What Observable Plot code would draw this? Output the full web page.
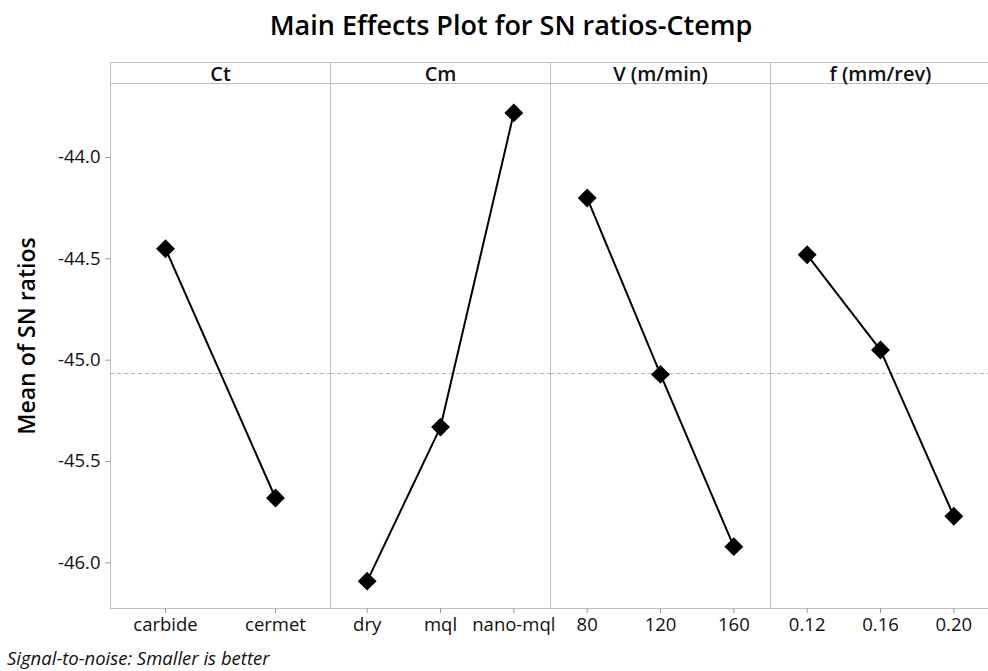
<!DOCTYPE html>
<html>
<head>
<meta charset="utf-8">
<script src="https://cdn.jsdelivr.net/npm/d3@7"></script>
<script src="https://cdn.jsdelivr.net/npm/@observablehq/plot@0.6"></script>
<style>
  html, body { margin: 0; padding: 0; background: #fff; }
  body { width: 988px; height: 671px; overflow: hidden; font-family: "Open Sans", sans-serif; color: #000; }
  #title { height: 50px; line-height: 50px; font-size: 27px; font-weight: 600; text-align: center; padding-left: 34px; box-sizing: border-box; width: 988px; white-space: nowrap; }
  #chart { width: 991px; height: 598px; }
  #caption { height: 19px; line-height: 19px; font-size: 18.5px; font-style: italic; padding-left: 7px; white-space: nowrap; color: #111; }
</style>
</head>
<body>
<div id="title">Main Effects Plot for SN ratios-Ctemp</div>
<div id="chart"></div>
<div id="caption">Signal-to-noise: Smaller is better</div>
<script>
// ---- data ----
const factors = ["Ct", "Cm", "V (m/min)", "f (mm/rev)"];
const ctLevels = ["carbide", "cermet"];
const ctMeans = [-44.45, -45.68];
const cmLevels = ["dry", "mql", "nano-mql"];
const cmMeans = [-46.09, -45.33, -43.78];
const vLevels = ["80", "120", "160"];
const vMeans = [-44.20, -45.07, -45.92];
const fLevels = ["0.12", "0.16", "0.20"];
const fMeans = [-44.48, -44.95, -45.77];
const yTicks = [-44.0, -44.5, -45.0, -45.5, -46.0];
const yDomain = [-46.225, -43.635];

const levelSets = [ctLevels, cmLevels, vLevels, fLevels];
const meanSets = [ctMeans, cmMeans, vMeans, fMeans];

const rows = [];
factors.forEach((factor, k) => {
  const levels = levelSets[k];
  levels.forEach((level, i) => {
    rows.push({factor, level, pos: (i + 0.5) / levels.length, mean: meanSets[k][i]});
  });
});
const grandMean = d3.mean(rows, d => d.mean);

const W = 991, H = 598, mL = 108, mR = 0, mT = 33, mB = 40;
const frameH = H - mT - mB;
const gridGray = "#c0c0c0";

const chart = Plot.plot({
  width: W,
  height: H,
  marginLeft: mL,
  marginRight: mR,
  marginTop: mT,
  marginBottom: mB,
  style: {fontFamily: "'Open Sans', sans-serif", color: "#000", background: "#fff"},
  fx: {domain: factors, padding: 0},
  x: {domain: [0, 1], axis: null},
  y: {domain: yDomain, axis: null},
  marks: [
    Plot.frame({stroke: gridGray, insetTop: -21}),
    Plot.frame({anchor: "top", stroke: gridGray}),
    Plot.ruleY([grandMean], {stroke: "#b0b0b0", strokeDasharray: "4,3", strokeWidth: 1}),
    Plot.axisFx({anchor: "top", label: null, tickSize: 0, tickPadding: 3, fontSize: 20, fontWeight: 600, fill: "#111"}),
    Plot.axisY(yTicks, {
      anchor: "left",
      tickSize: 5,
      tickPadding: 5,
      tickFormat: d => d.toFixed(1),
      fontSize: 18.5,
      fontWeight: 500,
      stroke: "#999",
      fill: "#111",
      label: "Mean of SN ratios",
      labelArrow: "none",
      labelAnchor: "center",
      labelOffset: 92
    }),
    Plot.tickX(rows, {fx: "factor", x: "pos", stroke: "#999", insetTop: frameH, insetBottom: -5}),
    Plot.text(rows, {fx: "factor", x: "pos", text: "level", frameAnchor: "bottom", lineAnchor: "top", dy: 9, fontSize: 18.5, fontWeight: 500, fill: "#111"}),
    Plot.line(rows, {fx: "factor", x: "pos", y: "mean", stroke: "#000", strokeWidth: 2}),
    Plot.dot(rows, {fx: "factor", x: "pos", y: "mean", symbol: "diamond2", r: 8.5, fill: "#000", stroke: "none"})
  ]
});
document.getElementById("chart").appendChild(chart);

// y-axis label: size, weight, no arrow, shifted up slightly as in the reference
chart.querySelectorAll("g[aria-label='y-axis label'] text").forEach(t => {
  t.textContent = "Mean of SN ratios";
  t.setAttribute("font-size", 23);
  t.setAttribute("font-weight", 600);
  t.setAttribute("fill", "#000");
  const tr = t.getAttribute("transform") || "";
  const m = tr.match(/translate\(([-\d.]+),\s*([-\d.]+)\)/);
  if (m) {
    t.setAttribute("transform", tr.replace(m[0], `translate(${m[1]},${(+m[2] - 10).toFixed(2)})`));
  }
});
</script>
</body>
</html>
